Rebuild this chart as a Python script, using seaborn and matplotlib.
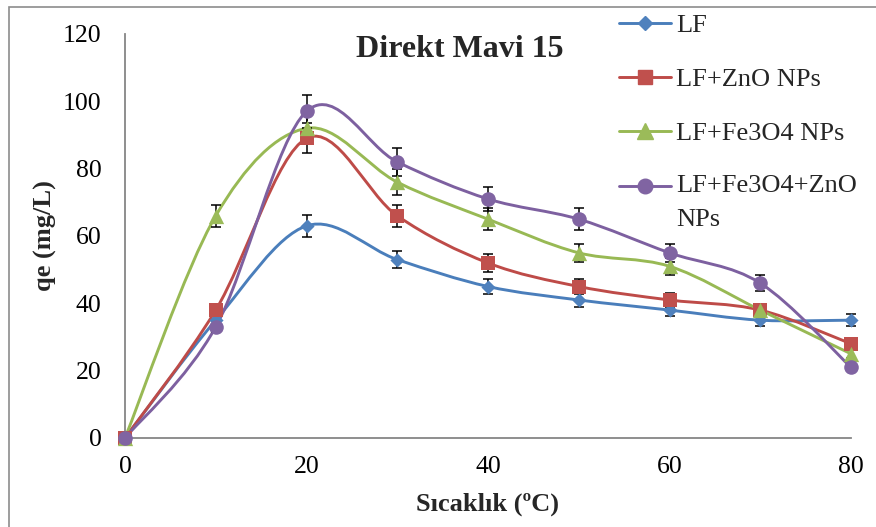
import numpy as np
import matplotlib
matplotlib.use("Agg")
import matplotlib.pyplot as plt
import seaborn as sns
from matplotlib.path import Path
from matplotlib.patches import PathPatch, Rectangle
from matplotlib.lines import Line2D
from matplotlib.legend_handler import HandlerLine2D

# Adsorption capacity vs temperature for Direct Blue 15
temperature = [0, 10, 20, 30, 40, 50, 60, 70, 80]
series_names = ["LF", "LF+ZnO NPs", "LF+Fe3O4 NPs", "LF+Fe3O4+ZnO\nNPs"]
qe_lf = [0, 35, 63, 53, 45, 41, 38, 35, 35]
qe_zno = [0, 38, 89, 66, 52, 45, 41, 38, 28]
qe_fe3o4 = [0, 66, 92, 76, 65, 55, 51, 38, 25]
qe_fe3o4_zno = [0, 33, 97, 82, 71, 65, 55, 46, 21]
error_fraction = 0.05  # percentage error bars (5 %)
x_ticks = [0, 20, 40, 60, 80]
y_ticks = [0, 20, 40, 60, 80, 100, 120]

line_colors = ["#4A7EBB", "#BE4B48", "#98B954", "#7D60A0"]
marker_colors = ["#4F81BD", "#C0504D", "#9BBB59", "#8064A2"]
markers = ["D", "s", "^", "o"]
marker_sizes = [7.2, 10, 11, 10.5]

sns.set_style("white")
plt.rcParams["font.family"] = ["Liberation Serif", "DejaVu Serif"]

W, H = 876, 527
fig = plt.figure(figsize=(W / 100, H / 100), dpi=100)
ax = fig.add_axes([125 / W, (H - 438) / H, 726 / W, 404 / H])


def smooth_path(x, y):
    """Bezier path through the points (Catmull-Rom style smoothing)."""
    pts = np.column_stack([x, y]).astype(float)
    n = len(pts)
    verts = [pts[0]]
    codes = [Path.MOVETO]
    for i in range(n - 1):
        p0 = pts[i - 1] if i > 0 else pts[i]
        p1 = pts[i]
        p2 = pts[i + 1]
        p3 = pts[i + 2] if i + 2 < n else pts[i + 1]
        verts += [p1 + (p2 - p0) / 6, p2 - (p3 - p1) / 6, p2]
        codes += [Path.CURVE4] * 3
    return Path(verts, codes)


all_series = [qe_lf, qe_zno, qe_fe3o4, qe_fe3o4_zno]

for vals, lc in zip(all_series, line_colors):
    ax.add_patch(PathPatch(smooth_path(temperature, vals), facecolor="none",
                           edgecolor=lc, lw=2.1, zorder=2, clip_on=False,
                           capstyle="round", joinstyle="round"))

for vals, mc, mk, ms in zip(all_series, marker_colors, markers, marker_sizes):
    v = np.asarray(vals, float)
    ax.errorbar(temperature, v, yerr=v * error_fraction, fmt="none",
                ecolor="black", elinewidth=1.1, capsize=3.8, capthick=1.1,
                zorder=3, clip_on=False)
    sns.scatterplot(x=temperature, y=vals, ax=ax, marker=mk, s=ms ** 2,
                    color=mc, edgecolor=mc, linewidth=0, zorder=4,
                    clip_on=False, legend=False)

ax.set_xlim(0, 80)
ax.set_ylim(0, 120)
ax.set_xticks(x_ticks)
ax.set_yticks(y_ticks)
ax.set_xticklabels([str(t) for t in x_ticks])
ax.set_yticklabels([str(t) for t in y_ticks])

spine_color = "#868686"
for side in ["top", "right"]:
    ax.spines[side].set_visible(False)
for side in ["left", "bottom"]:
    ax.spines[side].set_color(spine_color)
    ax.spines[side].set_linewidth(1.3)
ax.tick_params(axis="both", direction="out", length=5, width=1.1,
               color=spine_color, labelsize=18.5, labelcolor="black")
ax.tick_params(axis="y", pad=12)
ax.tick_params(axis="x", pad=8)

ax.set_xlabel("Sıcaklık (ºC)", fontsize=19, fontweight="bold")
ax.set_ylabel("qe (mg/L)", fontsize=19, fontweight="bold")
ax.xaxis.set_label_coords(0.5, -0.136)
ax.yaxis.set_label_coords(-0.093, 0.5)

ax.text(0.461, 0.943, "Direkt Mavi 15", transform=ax.transAxes,
        ha="center", va="baseline", fontsize=23, fontweight="bold")


class RaisedLineHandler(HandlerLine2D):
    """Aligns the legend key with the first line of a wrapped label."""

    def __init__(self, shift, **kw):
        super().__init__(**kw)
        self.shift = shift

    def create_artists(self, legend, orig_handle, xdescent, ydescent,
                       width, height, fontsize, trans):
        return super().create_artists(legend, orig_handle, xdescent,
                                      ydescent - 2 * self.shift * fontsize,
                                      width, height, fontsize, trans)


handles = [Line2D([], [], color=lc, lw=2.1, marker=mk, markersize=ms,
                  markerfacecolor=mc, markeredgecolor=mc)
           for lc, mc, mk, ms in zip(line_colors, marker_colors, markers,
                                     marker_sizes)]
leg = fig.legend(handles, series_names, loc="upper left",
                 bbox_to_anchor=(619 / W, 1 - 14 / H), frameon=False,
                 fontsize=19, borderpad=0, borderaxespad=0,
                 handlelength=1.97, handletextpad=0.2, labelspacing=1.15,
                 handler_map={handles[3]: RaisedLineHandler(0.61)})
leg.get_texts()[3].set_linespacing(1.65)

# chart-area outline
fig.add_artist(Rectangle((9 / W, -0.05), 1.1, 1 - 7 / H + 0.05,
                         transform=fig.transFigure, fill=False,
                         edgecolor="#8C8C8C", lw=1.2, zorder=0))

fig.savefig("out.png", dpi=100)
